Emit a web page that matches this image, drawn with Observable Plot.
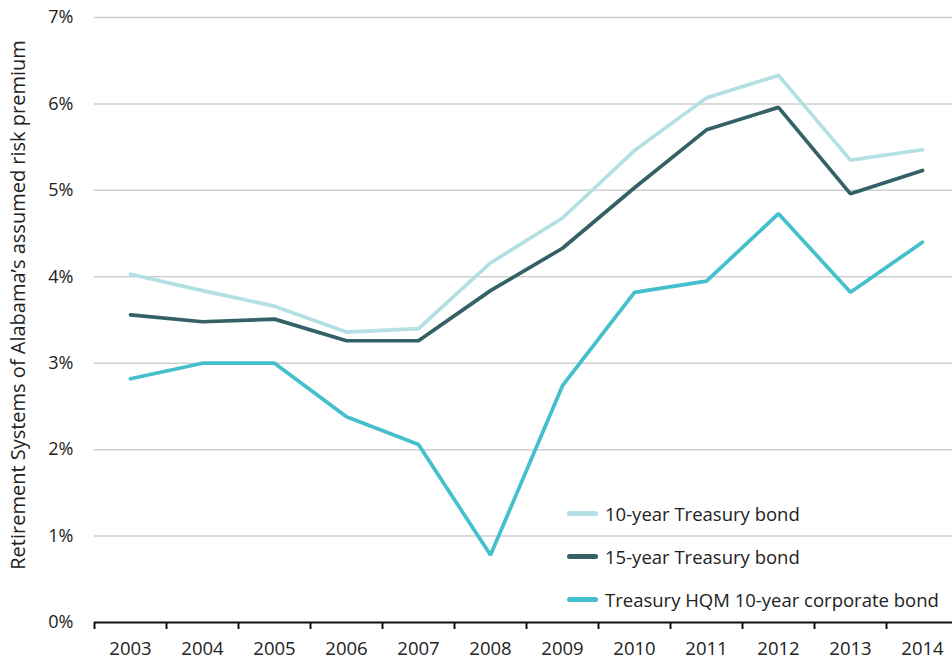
<!DOCTYPE html>
<html>
<head>
<meta charset="utf-8">
<script src="https://cdn.jsdelivr.net/npm/d3@7"></script>
<script src="https://cdn.jsdelivr.net/npm/@observablehq/plot@0.6"></script>
<style>
  html, body { margin: 0; padding: 0; background: #fff; }
  #wrap { position: relative; width: 952px; height: 661px; font-family: "Open Sans", sans-serif; color: #222; }
  #legend { position: absolute; left: 567px; top: 492px; }
  .item { display: flex; align-items: center; height: 43px; font-size: 18.5px; }
  .sw { width: 31px; height: 5px; border-radius: 3px; margin-right: 7px; }
</style>
</head>
<body>
<div id="wrap"><div id="chart"></div><div id="legend"></div></div>
<script>
const years = [2003, 2004, 2005, 2006, 2007, 2008, 2009, 2010, 2011, 2012, 2013, 2014];
const tenYear = [4.03, 3.84, 3.66, 3.36, 3.40, 4.16, 4.68, 5.46, 6.07, 6.33, 5.35, 5.47];
const fifteenYear = [3.56, 3.48, 3.51, 3.26, 3.26, 3.84, 4.33, 5.03, 5.70, 5.96, 4.96, 5.23];
const hqm = [2.82, 3.00, 3.00, 2.38, 2.06, 0.78, 2.74, 3.82, 3.95, 4.73, 3.82, 4.40];
const seriesNames = ["10-year Treasury bond", "15-year Treasury bond", "Treasury HQM 10-year corporate bond"];
const seriesColors = ["#b3e0e3", "#336166", "#44bfcc"];
const yTicks = [0, 1, 2, 3, 4, 5, 6, 7];
const yLabel = "Retirement Systems of Alabama\u2019s assumed risk premium";

const seriesValues = [tenYear, fifteenYear, hqm];
const data = [];
seriesNames.forEach((name, s) => years.forEach((yr, i) => data.push({series: name, year: yr, value: seriesValues[s][i]})));
const bandEdges = years.map(y => y - 0.5);

const plot = Plot.plot({
  width: 952,
  height: 661,
  marginLeft: 94,
  marginRight: 0,
  marginTop: 17,
  marginBottom: 39,
  style: {fontFamily: "Open Sans, sans-serif", fontSize: "18px", color: "#222", background: "#fff"},
  x: {type: "linear", domain: [2002.5, 2014.5], range: [94, 958]},
  y: {domain: [0, 7]},
  color: {domain: seriesNames, range: seriesColors},
  marks: [
    Plot.ruleY(yTicks.filter(d => d > 0), {stroke: "#cfcfcf", strokeWidth: 1.5}),
    Plot.axisY({ticks: yTicks, tickFormat: d => d + "%", tickSize: 0, tickPadding: 21, label: null, fontSize: 18}),
    Plot.axisX({ticks: years, tickFormat: d => String(d), tickSize: 0, tickPadding: 19, label: null, fontSize: 18.5}),
    Plot.axisX({ticks: bandEdges, tickFormat: () => "", tickSize: 7, strokeWidth: 2, stroke: "#111", label: null}),
    Plot.ruleY([0], {stroke: "#111", strokeWidth: 2}),
    Plot.line(data, {x: "year", y: "value", z: "series", stroke: "series", strokeWidth: 3.7, strokeLinejoin: "miter", strokeLinecap: "round"}),
    Plot.text([yLabel], {text: d => d, frameAnchor: "left", textAnchor: "middle", rotate: -90, dx: -76, dy: -15, fontSize: 20, fill: "#222"})
  ]
});
document.getElementById("chart").appendChild(plot);

const legend = document.getElementById("legend");
seriesNames.forEach((name, i) => {
  const item = document.createElement("div");
  item.className = "item";
  const sw = document.createElement("div");
  sw.className = "sw";
  sw.style.background = seriesColors[i];
  const label = document.createElement("span");
  label.textContent = name;
  item.appendChild(sw);
  item.appendChild(label);
  legend.appendChild(item);
});
</script>
</body>
</html>
